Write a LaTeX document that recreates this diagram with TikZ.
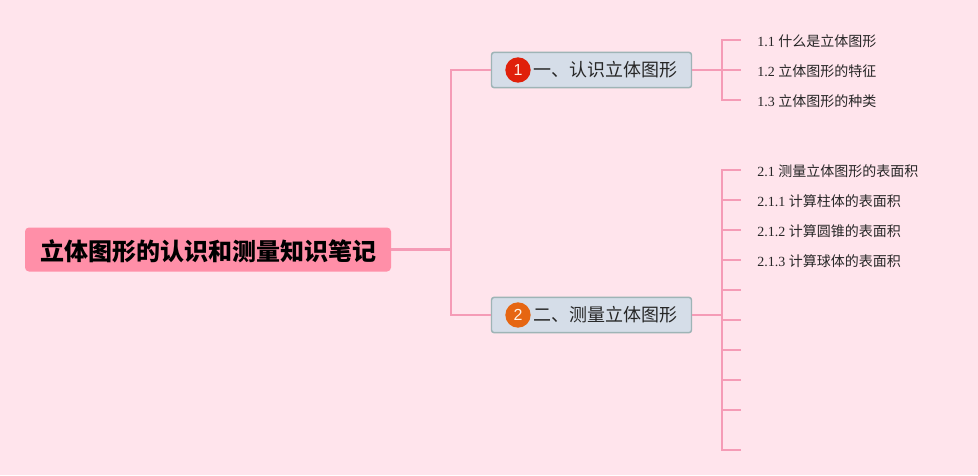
\documentclass[tikz,border=0pt]{standalone}
\usepackage{fontspec}
\setmainfont{Liberation Serif}
\newfontfamily\cjk{Noto Sans CJK SC}
\newfontfamily\iconfont{Liberation Sans}
\usepackage{xcolor}
\definecolor{fondo}{RGB}{255, 228, 236}
\definecolor{raiz}{RGB}{255, 143, 168}
\definecolor{linea}{RGB}{245, 155, 182}
\definecolor{rama}{RGB}{213, 221, 232}
\definecolor{borde}{RGB}{158, 180, 182}
\definecolor{rojo}{RGB}{224, 32, 10}
\definecolor{naranja}{RGB}{230, 102, 18}
\usepackage{tikz}
\usetikzlibrary{positioning}
\tikzset{
  raizbox/.style={fill=raiz, rounded corners=3pt, minimum width=274.5pt, minimum height=33pt, inner sep=0pt, text height=17pt, text depth=0pt, font=\cjk\fontsize{18pt}{20pt}\selectfont\bfseries},
  ramabox/.style={fill=rama, draw=borde, line width=1.1pt, rounded corners=2pt, minimum width=150pt, minimum height=26.5pt, inner sep=0pt, text=black!85, font=\fontsize{13.5pt}{16pt}\cjk\selectfont},
  icono/.style={circle, minimum size=19pt, inner sep=0pt, text=white!90!orange, font=\iconfont\fontsize{12pt}{14pt}\selectfont},
  hoja/.style={anchor=west, inner xsep=12pt, inner ysep=0pt, text height=9.5pt, text depth=0pt, text=black!85, font=\fontsize{10.5pt}{13pt}\selectfont},
  conector/.style={linea, line width=1.6pt}
}
\begin{document}
\begin{tikzpicture}[x=0.75pt, y=-0.75pt]
  % Fondo
  \fill[fondo] (0,0) rectangle (978,475);
  \useasboundingbox (0,0) rectangle (978,475);

  % Nodos principales
  \node[raizbox] (raiz) at (208,249.5) {立体图形的认识和测量知识笔记};
  \node[ramabox] (ramauno) at (591.5,70) {\hspace*{21.5pt}一、认识立体图形};
  \node[ramabox] (ramados) at (591.5,315) {\hspace*{21.5pt}二、测量立体图形};
  \node[icono, fill=rojo] (iconouno) at (518,70) {1};
  \node[icono, fill=naranja] (iconodos) at (518,315) {2};

  % Hojas de la primera rama
  \node[hoja] (hoja11) at (741,40) {1.1 {\cjk 什么是立体图形}};
  \node[hoja] (hoja12) at (741,70) {1.2 {\cjk 立体图形的特征}};
  \node[hoja] (hoja13) at (741,100) {1.3 {\cjk 立体图形的种类}};

  % Hojas de la segunda rama
  \node[hoja] (hoja21) at (741,170) {2.1 {\cjk 测量立体图形的表面积}};
  \node[hoja] (hoja22) at (741,200) {2.1.1 {\cjk 计算柱体的表面积}};
  \node[hoja] (hoja23) at (741,230) {2.1.2 {\cjk 计算圆锥的表面积}};
  \node[hoja] (hoja24) at (741,260) {2.1.3 {\cjk 计算球体的表面积}};
  \coordinate (hoja25) at (741,290);
  \coordinate (hoja26) at (741,320);
  \coordinate (hoja27) at (741,350);
  \coordinate (hoja28) at (741,380);
  \coordinate (hoja29) at (741,410);
  \coordinate (hoja30) at (741,450);

  % Puntos de union
  \coordinate (troncoa) at (451,249.5);
  \coordinate (troncob) at (722,70);
  \coordinate (troncoc) at (722,315);

  % Conectores
  \draw[conector] (raiz.east) -- (troncoa);
  \draw[conector] (ramauno.west) -| (troncoa);
  \draw[conector] (ramados.west) -| (troncoa);
  \draw[conector] (ramauno.east) -- (troncob);
  \draw[conector] (ramados.east) -- (troncoc);
  \foreach \h in {hoja11,hoja12,hoja13}
    \draw[conector] (\h.west) -| (troncob);
  \foreach \h in {hoja21,hoja22,hoja23,hoja24}
    \draw[conector] (\h.west) -| (troncoc);
  \foreach \h in {hoja25,hoja26,hoja27,hoja28,hoja29,hoja30}
    \draw[conector] (\h) -| (troncoc);
\end{tikzpicture}
\end{document}
